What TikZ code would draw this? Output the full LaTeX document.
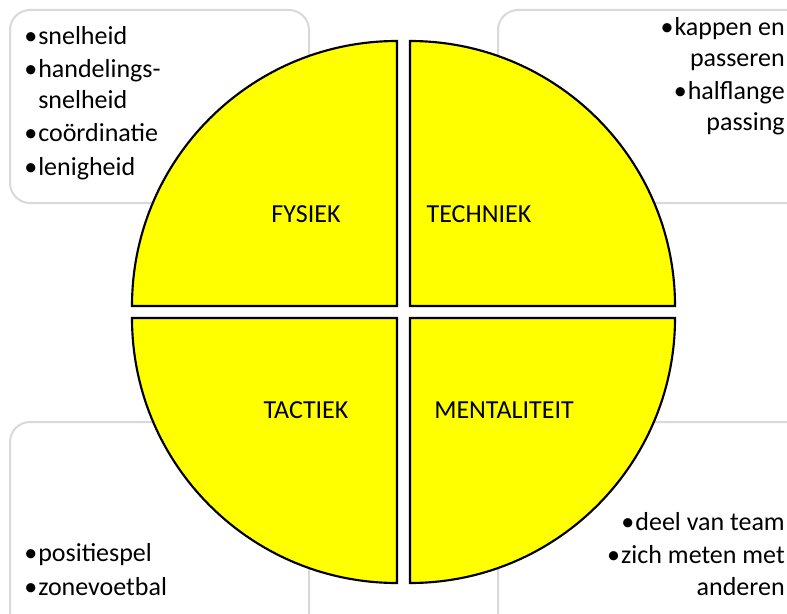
\documentclass[tikz,border=0pt]{standalone}
\usepackage{fontspec}
\setmainfont{Carlito}
\usetikzlibrary{positioning}
\definecolor{quarteryellow}{RGB}{255,255,0}
\newcommand{\bul}{•\kern0.8pt}

\begin{document}
\begin{tikzpicture}[x=0.75pt,y=-0.75pt]
\tikzset{side box/.style={draw=black!15, line width=1.5pt, rounded corners=15pt},
  quarter/.style={draw=black, fill=quarteryellow, line width=1.6pt},
  bullets/.style={inner sep=0pt, font=\fontsize{19.5}{23.3}\selectfont},
  sector label/.style={inner sep=0pt, font=\fontsize{19.5}{23}\selectfont}
}
\useasboundingbox (0,0) rectangle (787,613);

% boxes at the corners
\draw[side box] (10,10) rectangle (309,203);
\draw[side box] (498,10) rectangle (830,203);
\draw[side box] (10,422) rectangle (309,650);
\draw[side box] (498,422) rectangle (830,650);

% the four quarters
\coordinate (ctl) at (397,306);
\coordinate (ctr) at (410,306);
\coordinate (cbl) at (397,318);
\coordinate (cbr) at (410,318);
\draw[quarter] (ctl) -- ++(-265,0) arc (180:270:265) -- cycle;
\draw[quarter] (ctr) -- ++(0,-265) arc (270:360:265) -- cycle;
\draw[quarter] (cbl) -- ++(0,265) arc (90:180:265) -- cycle;
\draw[quarter] (cbr) -- ++(265,0) arc (0:90:265) -- cycle;

\node[sector label, anchor=base] (fysiek) at (306,222) {FYSIEK};
\node[sector label, anchor=base] (techniek) at (479,222) {TECHNIEK};
\node[sector label, anchor=base] (tactiek) at (306,418) {TACTIEK};
\node[sector label, anchor=base] (mentaliteit) at (504,418) {MENTALITEIT};

% lists (base = last line)
\node[bullets, align=left, anchor=base west] (fysieklist) at (24,175)
  {\bul snelheid\\[1.5pt]\bul handelings-\\\phantom{\bul}snelheid\\[1.5pt]\bul coördinatie\\[1.5pt]\bul lenigheid};
\node[bullets, align=right, anchor=base east] (technieklist) at (785,131)
  {\bul kappen en\\passeren\\[1.5pt]\bul halflange\\passing};
\node[bullets, align=left, anchor=base west] (tactieklist) at (24,595)
  {\bul positiespel\\[1.5pt]\bul zonevoetbal};
\node[bullets, align=right, anchor=base east] (mentaliteitlist) at (785,595)
  {\bul deel van team\\[1.5pt]\bul zich meten met\\anderen};
\end{tikzpicture}
\end{document}
